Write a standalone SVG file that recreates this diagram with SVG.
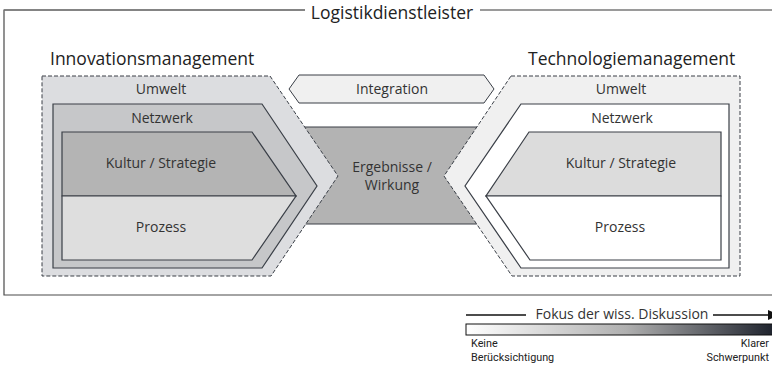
<svg xmlns="http://www.w3.org/2000/svg" width="772" height="366" viewBox="0 0 772 366">
<style>
text{font-family:"Open Sans","Noto Sans","Liberation Sans",sans-serif;fill:#333}
.h{font-size:17.5px;fill:#222}
.l{font-size:14px;text-anchor:middle}
.s{font-family:Roboto,"Open Sans",sans-serif;font-size:10.8px;fill:#222}
.dash{stroke:#3a3f47;stroke-width:1;stroke-dasharray:4,2}
.sol{stroke:#3a3f47;stroke-width:1.2}
</style>
<defs>
<linearGradient id="grad" x1="0" y1="0" x2="1" y2="0">
<stop offset="0" stop-color="#ffffff"/>
<stop offset="0.5" stop-color="#b0b0b0"/>
<stop offset="1" stop-color="#121722"/>
</linearGradient>
</defs>
<rect width="772" height="366" fill="#fff"/>
<g id="frame">
<path d="M305 10 H4 V295 H780" fill="none" stroke="#4a4a4a" stroke-width="1.2"/>
<path d="M305 10 H4 M480 10 H780" fill="none" stroke="#7a7a7a" stroke-width="1.4"/>
<text class="h" x="392" y="18.5" text-anchor="middle">Logistikdienstleister</text>
</g>
<g id="ergebnisse">
<rect x="290" y="127" width="200" height="97" fill="#b3b3b3" stroke="#3a3f47" stroke-width="1"/>
<text class="l" x="392" y="172">Ergebnisse /</text>
<text class="l" x="392" y="190">Wirkung</text>
</g>
<g id="innovation">
<text class="h" x="50" y="65">Innovationsmanagement</text>
<g id="umwelt-left">
<polygon points="42,76 270,76 338,176 271,276 42,276" fill="#dcdde0" class="dash"/>
<text class="l" x="161" y="94">Umwelt</text>
</g>
<g id="netzwerk-left">
<polygon points="53,104 262,104 317,186 262,268 53,268" fill="#c6c7c9" class="sol"/>
<text class="l" x="162" y="123">Netzwerk</text>
</g>
<g id="kultur-left">
<polygon points="62,132 252,132 296,196 62,196" fill="#b4b4b4" class="sol"/>
<text class="l" x="161" y="168">Kultur / Strategie</text>
</g>
<g id="prozess-left">
<polygon points="62,196 296,196 252,260 62,260" fill="#dedede" class="sol"/>
<text class="l" x="161" y="232">Prozess</text>
</g>
</g>
<g id="integration">
<polygon points="289,89 299,75 484,75 494,89 484,103 299,103" fill="#f0f0f0" stroke="#3a3f47" stroke-width="1"/>
<text class="l" x="392" y="94">Integration</text>
</g>
<g id="technologie">
<text class="h" x="528" y="65">Technologiemanagement</text>
<g id="umwelt-right">
<polygon points="511,76 740,76 740,276 512,276 444,176" fill="#f0f0f0" class="dash"/>
<text class="l" x="621" y="94">Umwelt</text>
</g>
<g id="netzwerk-right">
<polygon points="521,104 729,104 729,268 521,268 465,186" fill="#ffffff" class="sol"/>
<text class="l" x="622" y="123">Netzwerk</text>
</g>
<g id="kultur-right">
<polygon points="529,132 721,132 721,196 486,196" fill="#dcdcdc" class="sol"/>
<text class="l" x="621" y="168">Kultur / Strategie</text>
</g>
<g id="prozess-right">
<polygon points="486,196 721,196 721,260 530,260" fill="#ffffff" class="sol"/>
<text class="l" x="620" y="232">Prozess</text>
</g>
</g>
<g id="legend">
<line x1="466" y1="315" x2="526" y2="315" stroke="#111" stroke-width="1.3"/>
<text x="622" y="319" style="font-size:14px;text-anchor:middle">Fokus der wiss. Diskussion</text>
<line x1="713" y1="315" x2="768" y2="315" stroke="#111" stroke-width="1.3"/>
<polygon points="768,310 780,315 768,320" fill="#111"/>
<rect x="466" y="324" width="320" height="11" fill="url(#grad)" stroke="#111" stroke-width="1"/>
<text class="s" x="471" y="347">Keine</text>
<text class="s" x="471" y="360.5">Berücksichtigung</text>
<text class="s" x="769" y="347" text-anchor="end">Klarer</text>
<text class="s" x="769" y="360.5" text-anchor="end">Schwerpunkt</text>
</g>
</svg>
